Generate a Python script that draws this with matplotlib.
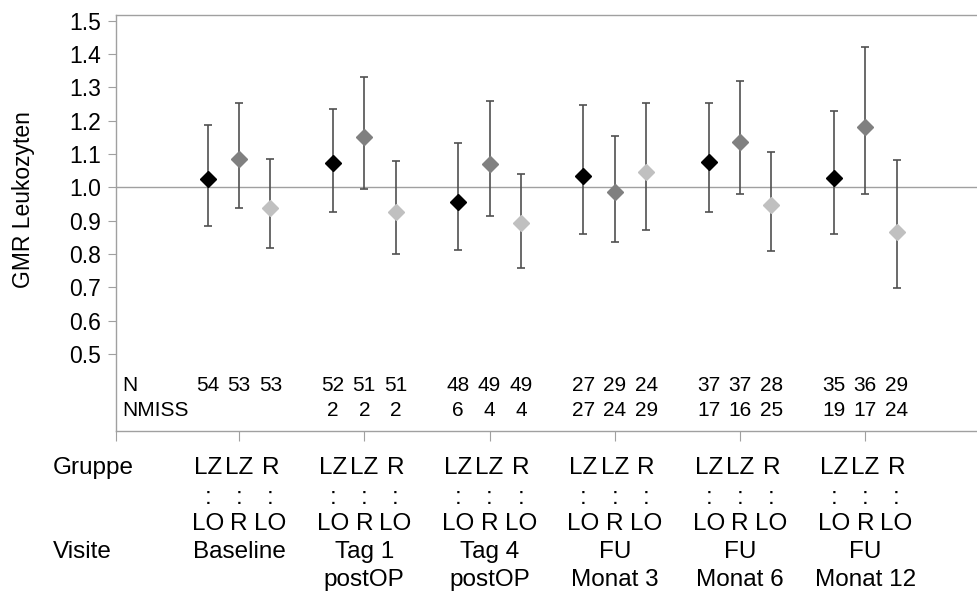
import matplotlib
matplotlib.use("Agg")
import matplotlib.pyplot as plt
from matplotlib.transforms import blended_transform_factory

plt.rcParams['font.family'] = ['Liberation Sans', 'DejaVu Sans']

visits = ["Baseline", "Tag 1\npostOP", "Tag 4\npostOP", "FU\nMonat 3", "FU\nMonat 6", "FU\nMonat 12"]
groups = ["LZ:LO", "LZ:R", "R:LO"]
group_top = ["LZ", "LZ", "R"]
group_bot = ["LO", "R", "LO"]
colors = ["#000000", "#808080", "#c0c0c0"]

gmr = {
    "LZ:LO": [1.024, 1.072, 0.957, 1.035, 1.077, 1.029],
    "LZ:R":  [1.084, 1.150, 1.071, 0.987, 1.137, 1.180],
    "R:LO":  [0.939, 0.927, 0.892, 1.047, 0.946, 0.867],
}
lower = {
    "LZ:LO": [0.885, 0.927, 0.813, 0.861, 0.927, 0.861],
    "LZ:R":  [0.939, 0.994, 0.915, 0.837, 0.981, 0.981],
    "R:LO":  [0.819, 0.801, 0.759, 0.873, 0.809, 0.697],
}
upper = {
    "LZ:LO": [1.186, 1.235, 1.132, 1.246, 1.252, 1.229],
    "LZ:R":  [1.253, 1.332, 1.259, 1.155, 1.319, 1.421],
    "R:LO":  [1.084, 1.078, 1.041, 1.253, 1.107, 1.083],
}
n_vals = {
    "LZ:LO": [54, 52, 48, 27, 37, 35],
    "LZ:R":  [53, 51, 49, 29, 37, 36],
    "R:LO":  [53, 51, 49, 24, 28, 29],
}
nmiss_vals = {
    "LZ:LO": [None, 2, 6, 27, 17, 19],
    "LZ:R":  [None, 2, 4, 24, 16, 17],
    "R:LO":  [None, 2, 4, 29, 25, 24],
}
yticks = [0.5, 0.6, 0.7, 0.8, 0.9, 1.0, 1.1, 1.2, 1.3, 1.4, 1.5]

W, H = 978, 594
fig = plt.figure(figsize=(W / 100, H / 100), dpi=100)
ax = fig.add_axes([116 / W, 1 - 431 / H, 1 - 116 / W, (431 - 15) / H])

offsets = [-0.25, 0.0, 0.25]
xc = [i + 1 for i in range(len(visits))]
ax.axhline(1.0, color="#a0a0a0", lw=1.0, zorder=1)

for g, off, col in zip(groups, offsets, colors):
    xs = [x + off for x in xc]
    y = gmr[g]
    yerr = [[a - b for a, b in zip(y, lower[g])], [c - a for a, c in zip(y, upper[g])]]
    ax.errorbar(xs, y, yerr=yerr, fmt='none', ecolor="#505050", elinewidth=1.2,
                capsize=2.9, capthick=1.2, zorder=2)
    ax.plot(xs, y, linestyle='none', marker='D', markersize=8.6, color=col,
            markeredgecolor=col, zorder=3)

ax.set_xlim(0.018, 6.9)
ax.set_ylim(0.269, 1.517)
ax.set_yticks(yticks)
ax.set_yticklabels([f"{v:.1f}" for v in yticks], fontsize=16.5)
ax.set_xticks([0.018] + xc)
ax.set_xticklabels([])
ax.tick_params(axis='y', length=6, color="#a0a0a0", pad=5)
ax.tick_params(axis='x', length=7.5, color="#a0a0a0")
for s in ["left", "top", "bottom"]:
    ax.spines[s].set_color("#a0a0a0")
    ax.spines[s].set_linewidth(1.0)
ax.spines["right"].set_visible(False)

# N / NMISS rows inside the plot
NFS = 15
tr = blended_transform_factory(ax.transData, ax.transData)
trl = blended_transform_factory(fig.transFigure, ax.transData)
ax.text(122 / W, 0.405, "N", transform=trl, fontsize=NFS, va='center', ha='left')
ax.text(122 / W, 0.330, "NMISS", transform=trl, fontsize=NFS, va='center', ha='left')
for g, off in zip(groups, offsets):
    for i, x in enumerate(xc):
        ax.text(x + off, 0.405, str(n_vals[g][i]), transform=tr, fontsize=NFS,
                va='center', ha='center')
        if nmiss_vals[g][i] is not None:
            ax.text(x + off, 0.330, str(nmiss_vals[g][i]), transform=tr, fontsize=NFS,
                    va='center', ha='center')

# y label
fig.text(24 / W, 1 - 200 / H, "GMR Leukozyten", rotation=90, fontsize=16.5,
         va='center', ha='center')

# bottom category labels
BFS = 17.5
trb = blended_transform_factory(ax.transData, fig.transFigure)
fig.text(53 / W, 1 - 468 / H, "Gruppe", fontsize=BFS, va='center', ha='left')
fig.text(53 / W, 1 - 552 / H, "Visite", fontsize=BFS, va='center', ha='left')
for i, x in enumerate(xc):
    for j, off in enumerate(offsets):
        ax.text(x + off, 1 - 468 / H, group_top[j], transform=trb, fontsize=BFS,
                va='center', ha='center')
        ax.text(x + off, 1 - 498 / H, ":", transform=trb, fontsize=BFS,
                va='center', ha='center')
        ax.text(x + off, 1 - 524 / H, group_bot[j], transform=trb, fontsize=BFS,
                va='center', ha='center')
    lines = visits[i].split("\n")
    for k, ln in enumerate(lines):
        ax.text(x, 1 - (552 + 28 * k) / H, ln, transform=trb, fontsize=BFS,
                va='center', ha='center')

fig.savefig("out.png", dpi=100)
